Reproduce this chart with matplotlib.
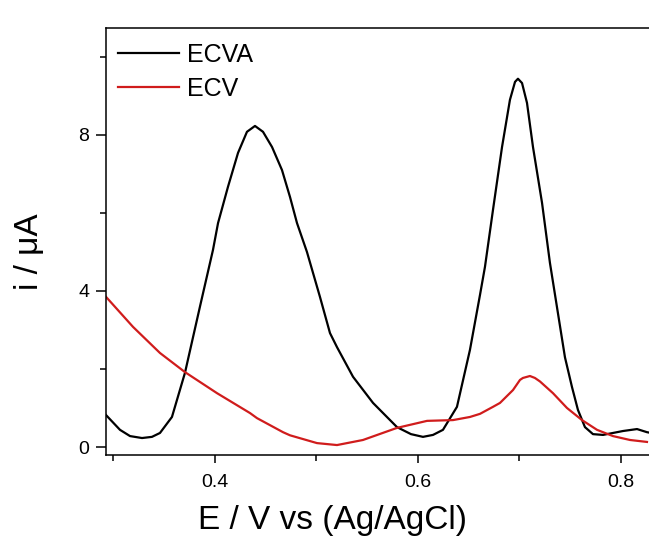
import matplotlib
matplotlib.use('Agg')
import matplotlib.pyplot as plt
from matplotlib.ticker import MultipleLocator

plt.rcParams['font.family'] = ['Liberation Sans', 'DejaVu Sans']

# ECVA (black)
ecva_e = [0.2926, 0.3064, 0.3163, 0.3281, 0.3379, 0.3458, 0.3576, 0.3704, 0.3852,
          0.3980, 0.4030, 0.4128, 0.4227, 0.4315, 0.4394, 0.4473, 0.4562, 0.4660,
          0.4739, 0.4808, 0.4906, 0.5034, 0.5133, 0.5202, 0.5360, 0.5557, 0.5793,
          0.5931, 0.6049, 0.6148, 0.6246, 0.6384, 0.6512, 0.6611, 0.6660, 0.6739,
          0.6828, 0.6906, 0.6956, 0.6985, 0.7025, 0.7074, 0.7133, 0.7222, 0.7300,
          0.7448, 0.7517, 0.7576, 0.7645, 0.7724, 0.7823, 0.7921, 0.8020, 0.8158,
          0.8256, 0.8276]
ecva_i = [0.82, 0.44, 0.28, 0.23, 0.26, 0.36, 0.77, 1.9, 3.6,
          5.05, 5.74, 6.67, 7.54, 8.08, 8.23, 8.08, 7.69, 7.10,
          6.41, 5.74, 5.0, 3.85, 2.92, 2.56, 1.8, 1.13, 0.51,
          0.33, 0.26, 0.31, 0.44, 1.03, 2.49, 3.9, 4.62, 6.08,
          7.69, 8.9, 9.36, 9.44, 9.33, 8.82, 7.69, 6.26, 4.72,
          2.3, 1.54, 0.95, 0.51, 0.33, 0.31, 0.36, 0.41, 0.46,
          0.38, 0.37]

# ECV (red)
ecv_e = [0.2926, 0.3192, 0.3458, 0.3704, 0.4020, 0.4345, 0.4414, 0.4670, 0.4739,
         0.5005, 0.5202, 0.5458, 0.5793, 0.6089, 0.6345, 0.6512, 0.6611, 0.6739,
         0.6808, 0.6936, 0.7005, 0.7034, 0.7103, 0.7152, 0.7202, 0.7330, 0.7468,
         0.7616, 0.7764, 0.7921, 0.8089, 0.8256]
ecv_i = [3.85, 3.08, 2.41, 1.92, 1.38, 0.87, 0.74, 0.38, 0.3,
         0.1, 0.05, 0.18, 0.49, 0.67, 0.69, 0.77, 0.85, 1.03,
         1.13, 1.46, 1.72, 1.77, 1.82, 1.77, 1.68, 1.38, 1.0,
         0.69, 0.44, 0.28, 0.18, 0.13]

fig = plt.figure(figsize=(6.49, 5.40), dpi=100)
ax = fig.add_axes([0.1633, 0.1574, 0.8367, 0.7907])

ax.plot(ecva_e, ecva_i, color='black', lw=1.6, label='ECVA', solid_joinstyle='round')
ax.plot(ecv_e, ecv_i, color='#d01c1c', lw=1.6, label='ECV', solid_joinstyle='round')

ax.set_xlim(0.2926, 0.8276)
ax.set_ylim(-0.205, 10.74)

ax.xaxis.set_major_locator(MultipleLocator(0.2))
ax.xaxis.set_minor_locator(MultipleLocator(0.1))
ax.yaxis.set_major_locator(MultipleLocator(4))
ax.yaxis.set_minor_locator(MultipleLocator(2))
ax.xaxis.set_major_formatter(plt.FuncFormatter(lambda v, p: '%.1f' % v))

ax.tick_params(axis='both', which='major', direction='out', labelsize=14, width=1.1)
ax.tick_params(axis='y', which='major', length=7, pad=5)
ax.tick_params(axis='x', which='major', length=6, pad=8)
ax.tick_params(axis='both', which='minor', direction='out', length=4.5, width=1.1)

ax.spines['right'].set_visible(False)
for s in ['left', 'bottom', 'top']:
    ax.spines[s].set_linewidth(1.1)

fig.text(332 / 649, 1 - 529 / 540, 'E / V vs (Ag/AgCl)', fontsize=24, ha='center', va='baseline')
fig.text(30 / 649, 1 - 252 / 540, 'i / \u03bcA', fontsize=24, ha='center', va='center', rotation=90)

ax.legend(loc='upper left', bbox_to_anchor=(0.022, 0.966), frameon=False, fontsize=18,
          borderpad=0, borderaxespad=0, handlelength=2.45, handletextpad=0.3, labelspacing=0.42)

fig.savefig('out.png', dpi=100)
